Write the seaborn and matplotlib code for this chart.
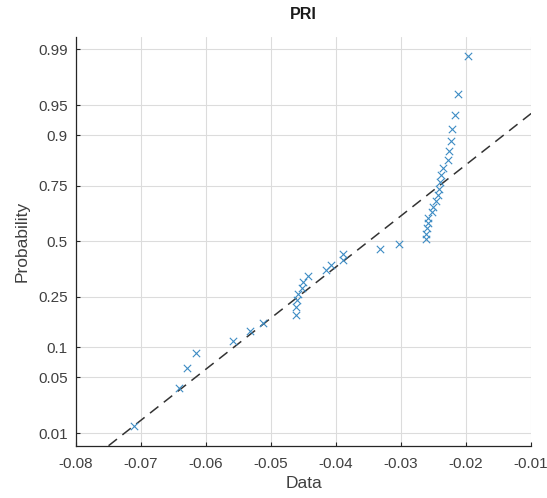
import matplotlib
matplotlib.use("Agg")
import matplotlib.pyplot as plt
import seaborn as sns
import numpy as np
import pandas as pd
from statistics import NormalDist

# ---- data ----
pri_values = [
    -0.0711, -0.0641, -0.0630, -0.0616, -0.0559, -0.0533, -0.0512, -0.0462,
    -0.0462, -0.0460, -0.0458, -0.0453, -0.0451, -0.0443, -0.0416, -0.0408,
    -0.0390, -0.0389, -0.0332, -0.0304, -0.0262, -0.0261, -0.0260, -0.0259,
    -0.0258, -0.0253, -0.0251, -0.0247, -0.0244, -0.0242, -0.0240, -0.0238,
    -0.0235, -0.0228, -0.0227, -0.0223, -0.0222, -0.0217, -0.0212, -0.0197,
]
prob_ticks = [0.01, 0.05, 0.1, 0.25, 0.5, 0.75, 0.9, 0.95, 0.99]
prob_labels = ["0.01", "0.05", "0.1", "0.25", "0.5", "0.75", "0.9", "0.95", "0.99"]
x_ticks = [-0.08, -0.07, -0.06, -0.05, -0.04, -0.03, -0.02, -0.01]
x_labels = ["-0.08", "-0.07", "-0.06", "-0.05", "-0.04", "-0.03", "-0.02", "-0.01"]

nd = NormalDist()
x = np.sort(np.array(pri_values))
n = len(x)
q = np.array([nd.inv_cdf((i - 0.5) / n) for i in range(1, n + 1)])
df = pd.DataFrame({"Data": x, "q": q})

# reference line through the 1st and 3rd quartiles (MATLAB prctile convention)
def prctile(v, p):
    pos = n * p / 100.0 + 0.5
    lo = int(np.floor(pos))
    frac = pos - lo
    return v[lo - 1] + frac * (v[lo] - v[lo - 1])

q1, q3 = prctile(x, 25), prctile(x, 75)
z1, z3 = nd.inv_cdf(0.25), nd.inv_cdf(0.75)

sns.set_style("white")
plt.rcParams["font.family"] = ["Liberation Sans", "DejaVu Sans"]

fig = plt.figure(figsize=(5.47, 4.98), dpi=100)
ax = fig.add_axes([0.139, 0.105, 0.832, 0.821])

ax.axline((q1, z1), (q3, z3), color="#333333", linestyle=(0, (7, 4.5)),
          linewidth=1.1, zorder=2)
sns.scatterplot(data=df, x="Data", y="q", marker="x", color="#3d8cc4",
                s=28, linewidth=0.8, ax=ax, zorder=3, legend=False)

ax.set_xlim(-0.08, -0.01)
ax.set_ylim(-2.475, 2.475)
ax.set_xticks(x_ticks)
ax.set_xticklabels(x_labels)
ax.set_yticks([nd.inv_cdf(p) for p in prob_ticks])
ax.set_yticklabels(prob_labels)

ax.grid(True, color="#dcdcdc", linewidth=0.8)
ax.set_axisbelow(True)
for side in ["top", "right"]:
    ax.spines[side].set_visible(False)
for side in ["left", "bottom"]:
    ax.spines[side].set_color("#262626")
    ax.spines[side].set_linewidth(0.9)
ax.tick_params(axis="both", direction="in", length=3, width=0.8,
               colors="#262626", labelsize=11, labelcolor="#404040")
ax.tick_params(axis="x", pad=8)
ax.tick_params(axis="y", pad=6)
ax.tick_params(left=True, bottom=True)

ax.set_xlabel("Data", fontsize=12.5, color="#404040", labelpad=4)
ax.set_ylabel("Probability", fontsize=12.5, color="#404040", labelpad=6)
ax.set_title("PRI", fontsize=11.5, fontweight="bold", color="#1a1a1a", pad=13)

fig.savefig("out.png", dpi=100)
